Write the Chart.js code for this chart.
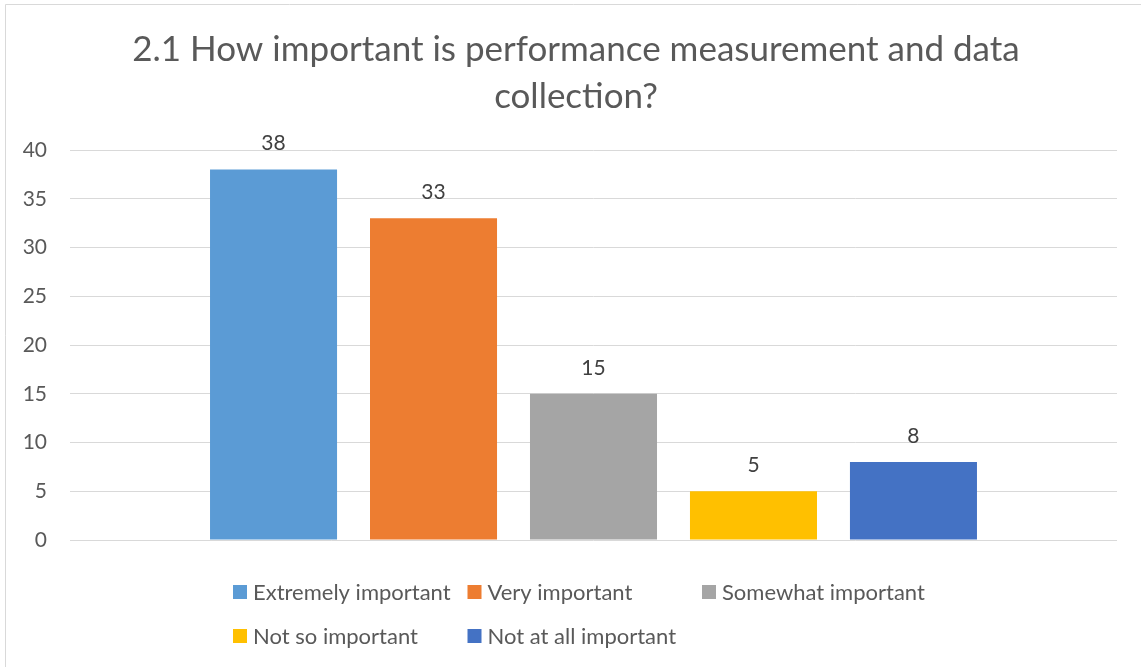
<!DOCTYPE html>
<html>
<head>
<meta charset="utf-8">
<script src="https://cdn.jsdelivr.net/npm/chart.js@4/dist/chart.umd.min.js"></script>
<style>
  html, body { margin: 0; padding: 0; background: #ffffff; }
  #wrap { width: 1141px; height: 667px; }
</style>
</head>
<body>
<div id="wrap"><canvas id="c" width="1141" height="667"></canvas></div>
<script>
const titleLines = ['2.1 How important is performance measurement and data', 'collection?'];
const categories = [''];
const seriesNames = ['Extremely important', 'Very important', 'Somewhat important', 'Not so important', 'Not at all important'];
const seriesValues = [38, 33, 15, 5, 8];
const seriesColors = ['#5B9BD5', '#ED7D31', '#A5A5A5', '#FFC000', '#4472C4'];
const yTicks = [0, 5, 10, 15, 20, 25, 30, 35, 40];

const FONT = 'Lato, "Liberation Sans", sans-serif';
const TEXT = '#595959';

const frame = {
  id: 'frame',
  beforeDraw(chart) {
    const ctx = chart.ctx;
    ctx.save();
    ctx.fillStyle = '#ffffff';
    ctx.fillRect(0, 0, chart.width, chart.height);
    ctx.strokeStyle = '#D9D9D9';
    ctx.lineWidth = 1;
    ctx.beginPath();
    ctx.moveTo(5.5, chart.height);
    ctx.lineTo(5.5, 4.5);
    ctx.lineTo(chart.width, 4.5);
    ctx.stroke();
    ctx.restore();
  }
};

const chartTitle = {
  id: 'chartTitle',
  afterDraw(chart, args, opts) {
    const ctx = chart.ctx;
    ctx.save();
    ctx.font = opts.size + 'px ' + FONT;
    ctx.fillStyle = TEXT;
    ctx.textAlign = 'center';
    ctx.textBaseline = 'middle';
    opts.lines.forEach((line, i) => {
      ctx.fillText(line, opts.centerX, opts.firstY + i * opts.lineHeight);
    });
    ctx.restore();
  }
};

const valueLabels = {
  id: 'valueLabels',
  afterDatasetsDraw(chart) {
    const ctx = chart.ctx;
    ctx.save();
    ctx.font = '21px ' + FONT;
    ctx.fillStyle = '#404040';
    ctx.textAlign = 'center';
    ctx.textBaseline = 'middle';
    chart.data.datasets.forEach((ds, i) => {
      const meta = chart.getDatasetMeta(i);
      meta.data.forEach((bar, j) => {
        ctx.fillText(String(ds.data[j]), bar.x, bar.y - 26);
      });
    });
    ctx.restore();
  }
};

const gridLegend = {
  id: 'gridLegend',
  afterDraw(chart) {
    const ctx = chart.ctx;
    const startX = 233, colW = 234.5, rowY = [592, 636], perRow = 3, box = 14;
    ctx.save();
    ctx.font = '22px ' + FONT;
    ctx.textBaseline = 'middle';
    ctx.textAlign = 'left';
    chart.data.datasets.forEach((ds, i) => {
      const x = startX + (i % perRow) * colW;
      const y = rowY[Math.floor(i / perRow)];
      ctx.fillStyle = ds.backgroundColor;
      ctx.fillRect(x, y - box / 2, box, box);
      ctx.fillStyle = TEXT;
      ctx.fillText(ds.label, x + box + 6, y + 1);
    });
    ctx.restore();
  }
};

new Chart(document.getElementById('c'), {
  type: 'bar',
  data: {
    labels: categories,
    datasets: seriesNames.map((name, i) => ({
      label: name,
      data: [seriesValues[i]],
      backgroundColor: seriesColors[i],
      borderWidth: 0,
      categoryPercentage: 0.764,
      barPercentage: 0.794
    }))
  },
  options: {
    responsive: false,
    animation: false,
    devicePixelRatio: 1,
    layout: { padding: { top: 150, left: 0, right: 24, bottom: 127 } },
    plugins: {
      legend: { display: false },
      tooltip: { enabled: false },
      title: { display: false },
      chartTitle: { lines: titleLines, size: 35, centerX: 576, firstY: 50, lineHeight: 47 }
    },
    scales: {
      x: {
        ticks: { display: false },
        grid: { display: false, drawTicks: false },
        border: { display: false }
      },
      y: {
        min: 0,
        max: 40,
        afterBuildTicks(scale) { scale.ticks = yTicks.map(v => ({ value: v })); },
        afterFit(scale) { scale.width = 70; },
        ticks: { color: TEXT, font: { family: FONT, size: 21 }, padding: 23 },
        grid: { color: '#D9D9D9', lineWidth: 1, drawTicks: false },
        border: { display: false }
      }
    }
  },
  plugins: [frame, chartTitle, valueLabels, gridLegend]
});
</script>
</body>
</html>
